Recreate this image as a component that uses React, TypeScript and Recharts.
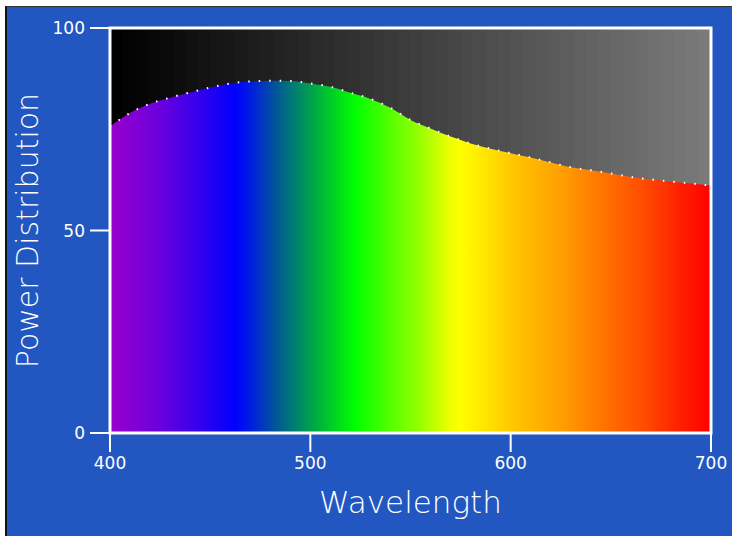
import React from 'react';
import { AreaChart, Area, XAxis, YAxis, ReferenceArea, Label } from 'recharts';

const wavelengths = [400, 410, 420, 430, 440, 450, 460, 470, 480, 490, 500, 510, 520, 530, 540, 550, 560, 570, 580, 590, 600, 610, 620, 630, 640, 650, 660, 670, 680, 690, 700];
const power = [75.7, 79.0, 81.3, 82.8, 84.1, 85.3, 86.3, 86.8, 87.0, 86.9, 86.3, 85.5, 84.0, 82.5, 80.3, 77.3, 75.2, 73.2, 71.5, 70.2, 69.1, 68.0, 66.8, 65.6, 64.9, 64.1, 63.2, 62.6, 62.1, 61.6, 61.1];
const xTicks = [400, 500, 600, 700];
const yTicks = [0, 50, 100];

const data = wavelengths.map((w, i) => ({ w, p: power[i] }));

const spectrumStops: [number, string][] = [
  [0.0, '#9900cc'],
  [0.083, '#6a00dd'],
  [0.15, '#3300ee'],
  [0.208, '#0000ff'],
  [0.241, '#0026d8'],
  [0.275, '#005599'],
  [0.316, '#008a66'],
  [0.358, '#00c030'],
  [0.408, '#00ff00'],
  [0.466, '#55ff00'],
  [0.516, '#99ff00'],
  [0.566, '#eeff00'],
  [0.583, '#ffff00'],
  [0.632, '#ffe000'],
  [0.682, '#ffc000'],
  [0.749, '#ffa000'],
  [0.815, '#ff7700'],
  [0.882, '#ff5000'],
  [0.948, '#ff2000'],
  [1.0, '#ff0000'],
];

// banded grey background (vertical stripes), from black to light grey
const bgBands = 48;
const bgStops: { o: number; c: string }[] = [];
for (let i = 0; i < bgBands; i++) {
  const v = Math.round((0x7a * i) / (bgBands - 1));
  const hex = v.toString(16).padStart(2, '0');
  const col = `#${hex}${hex}${hex}`;
  bgStops.push({ o: i / bgBands, c: col });
  bgStops.push({ o: (i + 1) / bgBands, c: col });
}

const FONT = '"DejaVu Sans", sans-serif';

export default function App() {
  return (
    <div style={{ position: 'absolute', left: 0, top: 0, width: 732, height: 536, background: '#ffffff', overflow: 'hidden' }}>
      <div
        style={{
          position: 'absolute',
          left: 5,
          top: 6,
          width: 727,
          height: 530,
          background: '#2256c0',
          borderLeft: '2px solid #111',
          borderTop: '1px solid #333',
          boxSizing: 'border-box',
        }}
      />
      <div style={{ position: 'absolute', left: 0, top: 0 }}>
        <AreaChart width={732} height={536} data={data} margin={{ top: 28, right: 21, bottom: 0, left: 0 }}>
          <defs>
            <linearGradient id="spec" x1="0" y1="0" x2="1" y2="0">
              {spectrumStops.map(([o, c], i) => (
                <stop key={i} offset={o} stopColor={c} />
              ))}
            </linearGradient>
            <linearGradient id="bg" x1="0" y1="0" x2="1" y2="0">
              {bgStops.map((s, i) => (
                <stop key={i} offset={s.o} stopColor={s.c} />
              ))}
            </linearGradient>
          </defs>
          <XAxis
            dataKey="w"
            type="number"
            domain={[400, 700]}
            ticks={xTicks}
            height={103}
            axisLine={false}
            tickLine={{ stroke: '#ffffff', strokeWidth: 2 }}
            tickSize={19}
            tickMargin={5}
            tick={{ fill: '#ffffff', fontSize: 17, fontFamily: FONT }}
          >
            <Label value="Wavelength" position="insideBottom" offset={23} fill="#ffffff" fontSize={31} fontFamily={FONT} fontWeight={200} />
          </XAxis>
          <YAxis
            type="number"
            domain={[0, 100]}
            ticks={yTicks}
            width={110}
            axisLine={false}
            tickLine={{ stroke: '#ffffff', strokeWidth: 2 }}
            tickSize={20}
            tickMargin={5}
            tick={{ fill: '#ffffff', fontSize: 17, fontFamily: FONT }}
          >
            <Label value="Power Distribution" position="insideLeft" angle={-90} offset={27} fill="#ffffff" fontSize={30} fontFamily={FONT} fontWeight={200} style={{ textAnchor: 'middle' }} />
          </YAxis>
          <ReferenceArea x1={400} x2={700} y1={0} y2={100} fill="url(#bg)" fillOpacity={1} stroke="none" />
          <Area
            type="monotone"
            dataKey="p"
            baseValue={0}
            fill="url(#spec)"
            fillOpacity={1}
            stroke="#ffffff"
            strokeWidth={2}
            strokeDasharray="1.5 9"
            isAnimationActive={false}
            dot={false}
            activeDot={false}
          />
          <ReferenceArea x1={400} x2={700} y1={0} y2={100} fill="none" stroke="#ffffff" strokeWidth={3} />
        </AreaChart>
      </div>
    </div>
  );
}
